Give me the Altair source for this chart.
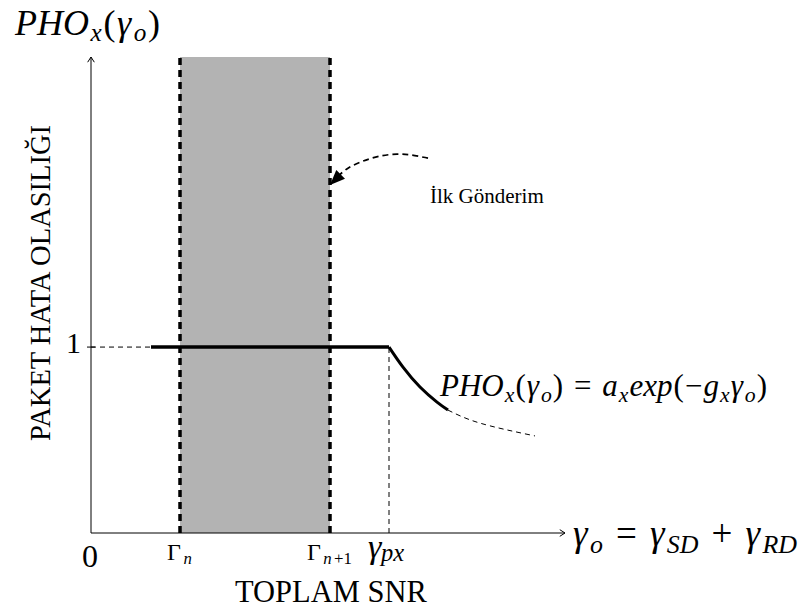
import altair as alt
import pandas as pd

# ---- values of the sketch (abstract SNR / probability units) ----
gamma_n = 8.9          # lower threshold Γn
gamma_n1 = 23.9        # upper threshold Γn+1
gamma_px = 29.8        # point where the error rate starts to fall
x_end = 47.4           # end of the SNR axis
y_end = 2.56           # end of the probability axis
level = 1.0            # saturated packet error probability
level_start = 6.0      # where the solid level line begins

curve_x = [29.8, 31.2, 32.9, 34.6, 35.7]
curve_y = [1.0, 0.892, 0.785, 0.704, 0.661]
tail_x = [35.7, 38.9, 44.4]
tail_y = [0.661, 0.591, 0.522]

pointer_x = [33.7, 32.1, 30.6, 28.9, 27.2, 25.7, 24.6]
pointer_y = [2.016, 2.032, 2.038, 2.027, 2.000, 1.962, 1.914]
pointer_tip = (23.9, 1.871)

y_title = "PAKET HATA OLASILIĞI"
x_title = "TOPLAM SNR"
note = "İlk Gönderim"

FONT = "Liberation Serif"
I, R = "italic", "normal"

xs = alt.Scale(domain=[0, x_end], range=[91, 565])
ys = alt.Scale(domain=[0, y_end], range=[533, 57])


def X(f):
    return alt.X(f, type="quantitative", scale=xs, axis=None)


def Y(f):
    return alt.Y(f, type="quantitative", scale=ys, axis=None)


one = pd.DataFrame({"x0": [gamma_n], "x1": [gamma_n1], "y0": [0.0], "y1": [y_end]})
band = alt.Chart(one).mark_rect(color="#b3b3b3").encode(
    x=X("x0"), x2="x1", y=Y("y0"), y2="y1")

thr = pd.DataFrame({"x": [gamma_n, gamma_n1], "y0": [0.0, 0.0], "y1": [y_end, y_end]})
thr_lines = alt.Chart(thr).mark_rule(color="black", strokeWidth=3.5, strokeDash=[7, 5]).encode(
    x=X("x"), y=Y("y0"), y2="y1")

axes_df = pd.DataFrame({"x0": [0.0, 0.0], "x1": [x_end, 0.0], "y0": [0.0, 0.0], "y1": [0.0, y_end]})
axes = alt.Chart(axes_df).mark_rule(color="black", strokeWidth=1).encode(
    x=X("x0"), x2="x1", y=Y("y0"), y2="y1")

arrow_up = alt.Chart(pd.DataFrame({"x": [0.0], "y": [y_end]})).mark_point(
    shape="M -0.7 1.1 L 0 0 L 0.7 1.1", filled=False, size=90, color="black",
    strokeWidth=1, opacity=1).encode(x=X("x"), y=Y("y"))
arrow_right = alt.Chart(pd.DataFrame({"x": [x_end], "y": [0.0]})).mark_point(
    shape="M -1.1 -0.7 L 0 0 L -1.1 0.7", filled=False, size=90, color="black",
    strokeWidth=1, opacity=1).encode(x=X("x"), y=Y("y"))

guide_df = pd.DataFrame({"x0": [0.0, gamma_px], "x1": [level_start, gamma_px],
                         "y0": [level, 0.0], "y1": [level, level]})
guides = alt.Chart(guide_df).mark_rule(color="black", strokeWidth=1, strokeDash=[5, 4]).encode(
    x=X("x0"), x2="x1", y=Y("y0"), y2="y1")

tick = alt.Chart(pd.DataFrame({"x0": [-0.4], "x1": [0.4], "y": [level]})).mark_rule(
    color="black", strokeWidth=1).encode(x=X("x0"), x2="x1", y=Y("y"))

flat = alt.Chart(pd.DataFrame({"x0": [level_start], "x1": [gamma_px], "y": [level]})).mark_rule(
    color="black", strokeWidth=3.5).encode(x=X("x0"), x2="x1", y=Y("y"))

cdf = pd.DataFrame({"x": curve_x, "y": curve_y, "i": range(len(curve_x))})
curve = alt.Chart(cdf).mark_line(color="black", strokeWidth=3, interpolate="natural").encode(
    x=X("x"), y=Y("y"), order="i:Q")

tdf = pd.DataFrame({"x": tail_x, "y": tail_y, "i": range(len(tail_x))})
tail = alt.Chart(tdf).mark_line(color="black", strokeWidth=1, strokeDash=[5, 4],
                                interpolate="natural").encode(x=X("x"), y=Y("y"), order="i:Q")

pdf = pd.DataFrame({"x": pointer_x, "y": pointer_y, "i": range(len(pointer_x))})
pointer = alt.Chart(pdf).mark_line(color="black", strokeWidth=1.7, strokeDash=[6, 4],
                                   interpolate="cardinal").encode(x=X("x"), y=Y("y"), order="i:Q")
head = alt.Chart(pd.DataFrame({"x": [pointer_tip[0]], "y": [pointer_tip[1]]})).mark_point(
    shape="M 0 0 L 1.0 -0.42 L 0.42 -1.0 Z", filled=True, size=900, color="black",
    strokeWidth=0, opacity=1).encode(x=X("x"), y=Y("y"))

# ---- a tiny math typesetter: pieces are laid out left to right ----
ADV_R = {"(": .333, ")": .333, "=": .564, "+": .564, "−": .564, "Γ": .578,
         "1": .5, " ": .28}
ADV_I = {"P": .611, "H": .722, "O": .722, "x": .444, "o": .5, "γ": .42, "S": .5,
         "D": .722, "R": .611, "n": .5, "p": .5, "a": .5, "e": .444, "g": .5}
SUB = 0.7


def advance(text, style, size):
    table = ADV_I if style == I else ADV_R
    return sum(table.get(c, .5) for c in text) * size


def typeset(pieces, x0, x1, base, size, sub=SUB, drop=0.18):
    """pieces: (text, style, is_subscript); spare room is shared evenly between pieces."""
    items = []
    for text, style, is_sub in pieces:
        fs = size * sub if is_sub else size
        items.append((text, style, fs, base + (drop * size if is_sub else 0)))
    widths = [advance(t, s, fs) for t, s, fs, _ in items]
    spare = (x1 - x0) - sum(widths)
    gap = spare / (len(items) - 1) if len(items) > 1 else 0.0
    rows, cur = [], x0
    for (t, s, fs, b), w in zip(items, widths):
        if t.strip():
            rows.append((t, cur, b, fs, s))
        cur += w + gap
    return rows


runs = []
# vertical variable name
runs += typeset([("PHO", I, 0), ("x", I, 1), ("(", R, 0), ("γ", I, 0), ("o", I, 1), (")", R, 0)],
                15, 160, 35, 36)
# horizontal variable name
runs += typeset([("γ", I, 0), ("o", I, 1), (" ", R, 0), ("=", R, 0), (" ", R, 0),
                 ("γ", I, 0), ("SD", I, 1), (" ", R, 0), ("+", R, 0), (" ", R, 0),
                 ("γ", I, 0), ("RD", I, 1)],
                573, 797, 546, 37)
# error-rate expression next to the curve
runs += typeset([("PHO", I, 0), ("x", I, 1), ("(", R, 0), ("γ", I, 0), ("o", I, 1), (")", R, 0),
                 (" ", R, 0), ("=", R, 0), (" ", R, 0), ("a", I, 0), ("x", I, 1),
                 ("exp", I, 0), ("(", R, 0), ("−", R, 0), ("g", I, 0), ("x", I, 1),
                 ("γ", I, 0), ("o", I, 1), (")", R, 0)],
                440, 767, 396, 31)
# tick labels
runs += typeset([("Γ", R, 0), ("n", I, 1)], 167, 192, 560, 24)
runs += typeset([("Γ", R, 0), ("n", I, 1), ("+1", R, 1)], 307, 352, 560, 24)
runs += typeset([("γ", I, 0), ("px", I, 1)], 368, 404, 558, 34, sub=0.72, drop=0.1)
runs += [("0", 82, 567, 32, R), ("1", 66, 353, 30, R),
         (x_title, 235, 602, 30.5, R), (note, 430, 203, 21, R)]

rdf = pd.DataFrame(runs, columns=["t", "px", "py", "fs", "st"])


def text_layer(style):
    return alt.Chart(rdf[rdf.st == style]).mark_text(
        align="left", baseline="alphabetic", font=FONT, fontStyle=style, color="black"
    ).encode(
        x=alt.X("px:Q", scale=None, axis=None),
        y=alt.Y("py:Q", scale=None, axis=None),
        size=alt.Size("fs:Q", scale=None, legend=None),
        text="t:N",
    )


ytitle = alt.Chart(pd.DataFrame({"t": [y_title]})).mark_text(
    angle=270, align="center", baseline="middle", font=FONT, fontSize=28.5, color="black"
).encode(x=alt.value(41), y=alt.value(283), text="t:N")

chart = alt.layer(
    band, thr_lines, axes, arrow_up, arrow_right, guides, tick, flat, curve, tail,
    pointer, head, text_layer(R), text_layer(I), ytitle,
).resolve_scale(x="independent", y="independent").properties(
    width=801, height=612, autosize="none", padding=0, background="white"
).configure_view(stroke=None)

chart.save("out.html", embed_options={"renderer": "svg", "actions": False})
